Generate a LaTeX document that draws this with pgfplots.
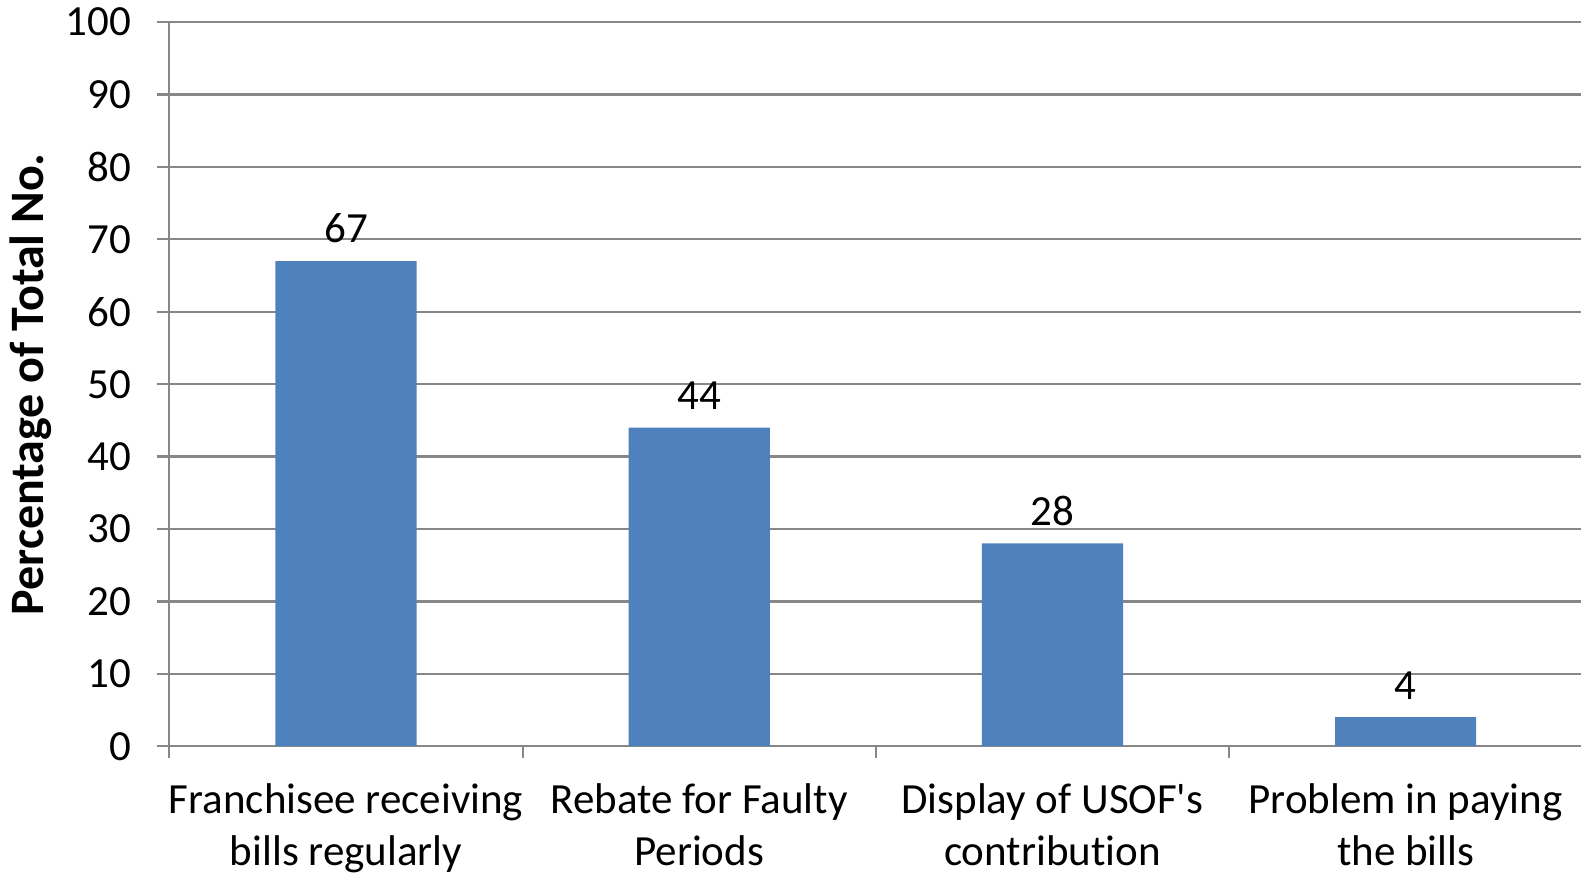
\documentclass[border=0pt]{standalone}
\usepackage{fontspec}
\setmainfont{Carlito}[Ligatures=NoCommon]
\newfontfamily\plainq{Carlito}[Ligatures=NoCommon]
\usepackage{pgfplots}
\pgfplotsset{compat=1.18}
\definecolor{barblue}{HTML}{4F81BD}
\definecolor{gridgray}{HTML}{878787}
\begin{document}
\begin{tikzpicture}
\begin{axis}[
  name=ax,
  scale only axis,
  width=706.4bp, height=362bp,
  xmin=-0.5, xmax=3.5, ymin=0, ymax=100,
  axis lines*=left,
  axis line style={gridgray, line width=1.1bp},
  ytick={0,10,...,100},
  xtick={-0.5,0.5,1.5,2.5,3.5},
  xticklabels={},
  extra x ticks={0,1,2,3},
  extra x tick labels={{Franchisee receiving\\bills regularly},{Rebate for Faulty\\Periods},{Display of USOF{\plainq'}s\\contribution},{Problem in paying\\the bills}},
  extra x tick style={major tick length=0pt, tick label style={align=center, font=\fontsize{21.5bp}{26bp}\selectfont, yshift=-15bp}},
  tick align=outside,
  major tick length=6bp,
  tick style={gridgray, line width=1.1bp},
  ymajorgrids,
  grid style={gridgray, line width=1.1bp},
  /pgf/number format/assume math mode=true,
  yticklabel style={font=\fontsize{21.5bp}{26bp}\selectfont, xshift=-9.5bp},
  ylabel={Percentage of Total No.},
  ylabel style={at={(axis description cs:0,0.5)}, anchor=center, yshift=69.5bp, font=\fontsize{24bp}{28bp}\selectfont\bfseries},
  ybar,
  bar width=70.6bp,
  nodes near coords,
  nodes near coords style={font=\fontsize{21.5bp}{26bp}\selectfont, yshift=5.5bp, text=black},
]
\addplot[fill=barblue, draw=none] coordinates {(0,67) (1,44) (2,28) (3,4)};
\end{axis}
\pgfresetboundingbox
\path[use as bounding box] ([xshift=-84.7bp, yshift=-64.5bp]ax.south west) rectangle ([xshift=-0.6bp, yshift=11.1bp]ax.north east);
\end{tikzpicture}
\end{document}
